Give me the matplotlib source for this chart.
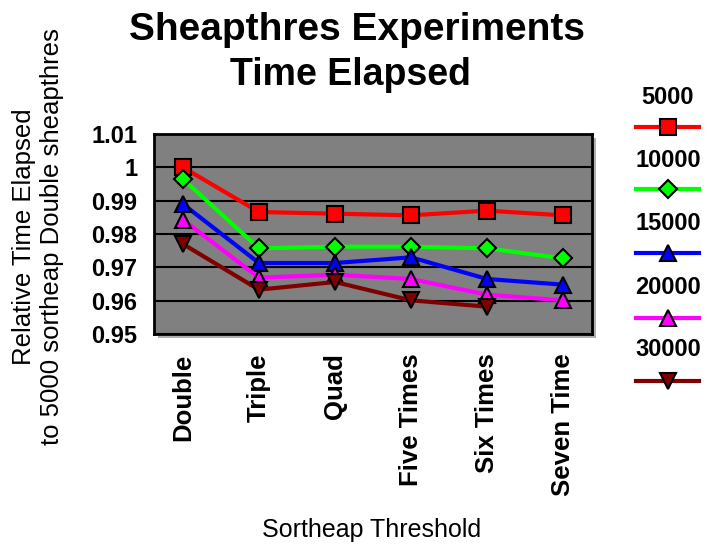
import numpy as np
import matplotlib
matplotlib.use('Agg')
import matplotlib.pyplot as plt
from matplotlib.lines import Line2D
from matplotlib.patches import Rectangle

plt.rcParams['font.family'] = ['Liberation Sans', 'DejaVu Sans']

# Données
categories = ['Double', 'Triple', 'Quad', 'Five Times', 'Six Times', 'Seven Time']
series_names = ['5000', '10000', '15000', '20000', '30000']
s5000 = [1.0, 0.9866, 0.9861, 0.9856, 0.9870, 0.9856]
s10000 = [0.9965, 0.9757, 0.9762, 0.9762, 0.9757, 0.9727]
s15000 = [0.9890, 0.9713, 0.9713, 0.9730, 0.9665, 0.9648]
s20000 = [0.9843, 0.9669, 0.9678, 0.9665, 0.9618, 0.9601]
s30000 = [0.9770, 0.9633, 0.9656, 0.9601, 0.9582, np.nan]
y_ticks = [0.95, 0.96, 0.97, 0.98, 0.99, 1.0, 1.01]
y_tick_labels = ['0.95', '0.96', '0.97', '0.98', '0.99', '1', '1.01']

all_series = [s5000, s10000, s15000, s20000, s30000]
colors = ['#ff0000', '#00ff00', '#0000ff', '#ff00ff', '#800000']
markers = ['s', 'D', '^', '^', 'v']
msizes = [12, 9, 11, 11, 11]

fig = plt.figure(figsize=(7.07, 5.46), dpi=100)
# ombre portée sous la zone de tracé
fig.add_artist(Rectangle((158/707, 1-338/546), (592-154)/707, (334-134)/546,
                         facecolor='#b0b0b0', edgecolor='none', zorder=0))
ax = fig.add_axes([154/707, 1-334/546, (592-154)/707, (334-134)/546])
ax.set_facecolor('#808080')

x = np.arange(len(categories))
for vals, c, m, ms in zip(all_series, colors, markers, msizes):
    ax.plot(x, vals, color=c, lw=3, marker=m, markersize=ms,
            markerfacecolor=c, markeredgecolor='black', markeredgewidth=1.5, zorder=3)

ax.set_ylim(0.95, 1.01)
ax.set_xlim(-0.38, 5.38)
ax.set_yticks(y_ticks)
ax.set_yticklabels(y_tick_labels, fontsize=17, fontweight='bold')
ax.set_xticks(x)
ax.set_xticklabels(categories, rotation=90, fontsize=18.5, fontweight='bold', va='top')
ax.tick_params(axis='both', length=0)
ax.tick_params(axis='y', pad=12)
ax.tick_params(axis='x', pad=14)
ax.yaxis.grid(True, color='black', lw=1.5)
ax.set_axisbelow(True)
for sp in ax.spines.values():
    sp.set_linewidth(2)

fig.text(38/707, 1-237/546, 'Relative Time Elapsed\nto 5000 sortheap Double sheapthres',
         fontsize=18.5, rotation=90, ha='center', va='center', multialignment='center', linespacing=1.25)
fig.text(372/707, 1-530/546, 'Sortheap Threshold', fontsize=18, ha='center', va='center')

fig.text(357/707, 1-30/546, 'Sheapthres Experiments', fontsize=28, fontweight='bold', ha='center', va='center')
fig.text(350/707, 1-75/546, 'Time Elapsed', fontsize=27, fontweight='bold', ha='center', va='center')

# Légende faite à la main (nom au-dessus du trait)
text_y = [97, 160, 223, 287, 350]
line_y = [127, 189, 253, 318, 381]
for name, c, m, ms, ty, ly in zip(series_names, colors, markers, msizes, text_y, line_y):
    fig.text(668/707, 1-ty/546, name, fontsize=17, fontweight='bold', ha='center', va='center')
    fig.add_artist(Line2D([636/707, 699/707], [1-ly/546, 1-ly/546], color=c, lw=3))
    fig.add_artist(Line2D([668/707], [1-ly/546], marker=m, markersize=ms, color=c,
                          markeredgecolor='black', markeredgewidth=1.5))

fig.savefig('out.png', dpi=100)
